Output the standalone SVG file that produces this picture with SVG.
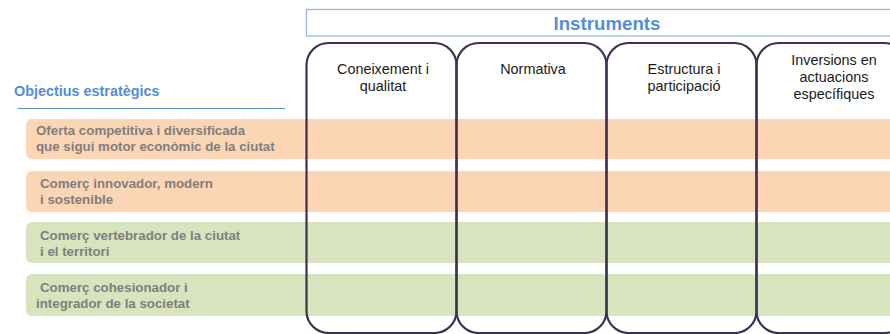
<svg xmlns="http://www.w3.org/2000/svg" width="890" height="334" viewBox="0 0 890 334">
<style>
.row-o{fill:#fcd5b5}
.row-g{fill:#d7e4bd}
.rt{font-family:"Liberation Sans",Arial,sans-serif;font-size:13.3px;font-weight:bold;fill:#7f7f7f}
.col{fill:none;stroke:#3f3151;stroke-width:2.2}
.ct{font-family:"Liberation Sans",Arial,sans-serif;font-size:14.4px;fill:#1a1a1a;text-anchor:middle}
.hd{font-family:"Liberation Sans",Arial,sans-serif;font-weight:bold;fill:#558ed5}
</style>
<rect width="890" height="334" fill="#ffffff"/>
<g id="header-instruments">
<rect x="306.5" y="9.5" width="600" height="26.5" fill="#ffffff" stroke="#8eb4e3" stroke-width="1.2"/>
<text class="hd" x="607" y="29.5" font-size="18.7" text-anchor="middle">Instruments</text>
</g>
<g id="header-objectius">
<text class="hd" x="14" y="96" font-size="14.4">Objectius estratègics</text>
<line x1="18" y1="108.5" x2="285" y2="108.5" stroke="#558ed5" stroke-width="1.2"/>
</g>
<g id="row1">
<rect class="row-o" x="26" y="119" width="900" height="40" rx="6"/>
<text class="rt" x="36" y="135">Oferta competitiva i diversificada</text>
<text class="rt" x="36" y="151">que sigui motor econòmic de la ciutat</text>
</g>
<g id="row2">
<rect class="row-o" x="26" y="171" width="900" height="41" rx="6"/>
<text class="rt" x="40" y="188">Comerç innovador, modern</text>
<text class="rt" x="40" y="204">i sostenible</text>
</g>
<g id="row3">
<rect class="row-g" x="26" y="222" width="900" height="41" rx="6"/>
<text class="rt" x="40" y="240">Comerç vertebrador de la ciutat</text>
<text class="rt" x="40" y="256">i el territori</text>
</g>
<g id="row4">
<rect class="row-g" x="26" y="274" width="900" height="42" rx="6"/>
<text class="rt" x="40" y="292">Comerç cohesionador i</text>
<text class="rt" x="36" y="308">integrador de la societat</text>
</g>
<g id="col1">
<rect class="col" x="306.5" y="43" width="150" height="290" rx="22" ry="22"/>
<text class="ct" x="383" y="74">Coneixement i</text>
<text class="ct" x="383" y="91">qualitat</text>
</g>
<g id="col2">
<rect class="col" x="456.5" y="43" width="150" height="290" rx="22" ry="22"/>
<text class="ct" x="533" y="74">Normativa</text>
</g>
<g id="col3">
<rect class="col" x="606.5" y="43" width="150" height="290" rx="22" ry="22"/>
<text class="ct" x="684" y="74">Estructura i</text>
<text class="ct" x="684" y="91">participació</text>
</g>
<g id="col4">
<rect class="col" x="756.5" y="43" width="150" height="290" rx="22" ry="22"/>
<text class="ct" x="834" y="65">Inversions en</text>
<text class="ct" x="834" y="82">actuacions</text>
<text class="ct" x="834" y="99">específiques</text>
</g>
<g id="connectors"></g>
</svg>
